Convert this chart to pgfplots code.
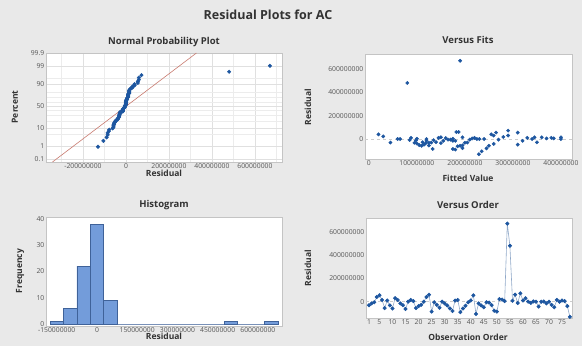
\documentclass[border=0pt]{standalone}
\usepackage{fontspec}
\setmainfont{Open Sans}
\usepackage{pgfplots}
\usepackage{pgfplotstable}
\pgfplotsset{compat=1.18}
\definecolor{bg}{HTML}{E9E9E9}
\definecolor{mblue}{HTML}{1D56A0}
\definecolor{barfill}{HTML}{739CDA}
\definecolor{baredge}{HTML}{3F6299}
\definecolor{fitred}{HTML}{C97B70}
\definecolor{framec}{HTML}{C4C4C4}
\definecolor{tickc}{HTML}{555555}
\definecolor{ttl}{HTML}{333333}
\definecolor{gridc}{HTML}{E0E0E0}
\definecolor{linec}{HTML}{90A8C8}

% residuals (millions) in observation order, with fitted values (millions)
\pgfplotstableread{
obs res fit
1 -30 45
2 -15 120
3 -5 270
4 40 20
5 55 310
6 15 150
7 -55 125
8 10 380
9 -32 95
10 -58 110
11 30 290
12 15 400
13 -15 175
14 -30 130
15 -62 185
16 0 60
17 15 345
18 5 215
19 -55 195
20 -38 100
21 -27 140
22 0 240
23 40 255
24 60 182
25 -85 133
26 -5 165
27 -28 112
28 -52 105
29 0 230
30 -15 180
31 -32 200
32 -58 250
33 -80 245
34 10 330
35 15 360
36 -90 180
37 -58 190
38 -35 150
39 -5 210
40 10 88
41 55 265
42 -105 235
43 -15 320
44 -32 125
45 -48 115
46 -5 170
47 -8 85
48 -30 205
49 -78 195
50 -85 175
51 22 30
52 18 280
53 5 370
54 670 190
55 480 80
56 8 160
57 60 187
58 -12 98
59 72 290
60 10 220
61 30 260
62 0 400
63 -10 135
64 2 175
65 0 225
66 -42 260
67 0 340
68 2 100
69 -15 155
70 0 120
71 -28 350
72 -48 310
73 15 195
74 0 65
75 10 145
76 5 385
77 -38 118
78 -130 229
}\orderdata

% sorted residuals (millions) and normal scores
\pgfplotstableread{
res z
-130 -2.369
-105 -2.020
-90 -1.819
-85 -1.673
-85 -1.555
-80 -1.456
-78 -1.369
-62 -1.292
-58 -1.221
-58 -1.157
-58 -1.096
-55 -1.040
-55 -0.986
-52 -0.936
-48 -0.887
-48 -0.841
-42 -0.796
-38 -0.753
-38 -0.711
-35 -0.670
-32 -0.631
-32 -0.592
-32 -0.555
-30 -0.518
-30 -0.482
-30 -0.446
-28 -0.411
-28 -0.376
-27 -0.342
-15 -0.308
-15 -0.275
-15 -0.242
-15 -0.209
-15 -0.177
-12 -0.144
-10 -0.112
-8 -0.080
-5 -0.048
-5 -0.016
-5 0.016
-5 0.048
0 0.080
0 0.112
0 0.144
0 0.177
0 0.209
0 0.242
0 0.275
0 0.308
2 0.342
2 0.376
5 0.411
5 0.446
5 0.482
8 0.518
10 0.555
10 0.592
10 0.631
10 0.670
10 0.711
15 0.753
15 0.796
15 0.841
15 0.887
15 0.936
18 0.986
22 1.040
30 1.096
30 1.157
40 1.221
40 1.292
55 1.369
55 1.456
60 1.555
60 1.673
72 1.819
480 2.020
670 2.369
}\normaldata

\pgfplotsset{mm/.style={
  scale only axis,
  axis background/.style={fill=white},
  axis line style={framec, line width=0.6pt},
  tick style={draw=none},
  ticklabel style={font=\fontsize{6.8}{8}\selectfont, text=tickc},
  xticklabel style={inner sep=1.5pt},
  yticklabel style={inner sep=1.5pt},
  /pgf/number format/assume math mode=true,
}}
\newcommand{\ttlfont}{\fontsize{9.5}{11}\selectfont\bfseries\color{ttl}}
\newcommand{\lblfont}{\fontsize{8.5}{10}\selectfont\bfseries\color{ttl}}

\begin{document}
\begin{tikzpicture}[x=1pt,y=1pt]
\fill[bg] (0,0) rectangle (582,346);

% Normal probability plot
\begin{axis}[mm, at={(46pt,184pt)}, anchor=south west, width=236pt, height=109pt,
  xmin=-372, xmax=726, ymin=-3.26, ymax=3.12,
  xtick={-200,0,200,400,600},
  xticklabels={-200000000,0,200000000,400000000,600000000},
  ytick={-3.090,-2.326,-1.282,0,1.282,2.326,3.090},
  yticklabels={0.1,1,10,50,90,99,99.9},
  minor xtick={-300,-100,100,300,500,700},
  minor ytick={-1.645,-0.842,-0.524,-0.253,0.253,0.524,0.842,1.645},
  grid=both, major grid style={gridc, line width=0.4pt},
  minor grid style={gridc!60, line width=0.3pt}]
\addplot[fitred, line width=0.6pt] coordinates {(-342,-3.26) (328,3.12)};
\addplot[only marks, mark=*, mark size=1.8pt, mark options={draw=mblue, fill=mblue}] table[x=res, y=z] {\normaldata};
\end{axis}

% Versus fits
\begin{axis}[mm, at={(365pt,187pt)}, anchor=south west, width=207pt, height=105pt,
  xmin=-8, xmax=423, ymin=-171, ymax=728,
  xtick={0,100,200,300,400},
  xticklabels={0,100000000,200000000,300000000,400000000},
  ytick={0,200,400,600},
  yticklabels={0,200000000,400000000,600000000}]
\addplot[gray!40, dashed, line width=0.4pt] coordinates {(-8,0) (423,0)};
\addplot[only marks, mark=*, mark size=1.7pt, mark options={draw=mblue, fill=mblue}] table[x=fit, y=res] {\orderdata};
\end{axis}

% Histogram
\begin{axis}[mm, at={(46pt,20pt)}, anchor=south west, width=236pt, height=109pt,
  xmin=-190, xmax=690, ymin=-0.76, ymax=40.76,
  xtick={-150,0,150,300,450,600},
  xticklabels={-150000000,0,150000000,300000000,450000000,600000000},
  ytick={0,10,20,30,40}]
\addplot[baredge!70, line width=0.7pt] coordinates {(-175,0) (675,0)};
\addplot[ybar, bar width=50, fill=barfill, draw=baredge, line width=0.5pt]
  coordinates {(-150,1) (-100,6) (-50,22) (0,38) (50,9) (500,1) (650,1)};
\end{axis}

% Versus order
\begin{axis}[mm, at={(366pt,28pt)}, anchor=south west, width=206pt, height=100pt,
  xmin=-0.15, xmax=78.8, ymin=-140, ymax=718,
  xtick={1,5,10,15,20,25,30,35,40,45,50,55,60,65,70,75},
  ytick={0,200,400,600},
  yticklabels={0,200000000,400000000,600000000}]
\addplot[gray!40, dashed, line width=0.4pt] coordinates {(-0.15,0) (78.8,0)};
\addplot[linec, line width=0.6pt, mark=*, mark size=1.7pt, mark options={draw=mblue, fill=mblue}] table[x=obs, y=res] {\orderdata};
\end{axis}

% titles and labels
\node[font=\fontsize{12.5}{14}\selectfont\bfseries, text=ttl] at (268,331) {Residual Plots for AC};
\node[font=\ttlfont] at (164,304) {Normal Probability Plot};
\node[font=\ttlfont] at (468,306) {Versus Fits};
\node[font=\ttlfont] at (164,141) {Histogram};
\node[font=\ttlfont] at (468,141) {Versus Order};
\node[font=\lblfont, rotate=90] at (15,239) {Percent};
\node[font=\lblfont] at (164,173) {Residual};
\node[font=\lblfont] at (468,168) {Fitted Value};
\node[font=\lblfont, rotate=90] at (308,239) {Residual};
\node[font=\lblfont, rotate=90] at (20,75) {Frequency};
\node[font=\lblfont] at (164,10) {Residual};
\node[font=\lblfont, rotate=90] at (308,78) {Residual};
\node[font=\lblfont] at (468,9) {Observation Order};
\end{tikzpicture}
\end{document}
